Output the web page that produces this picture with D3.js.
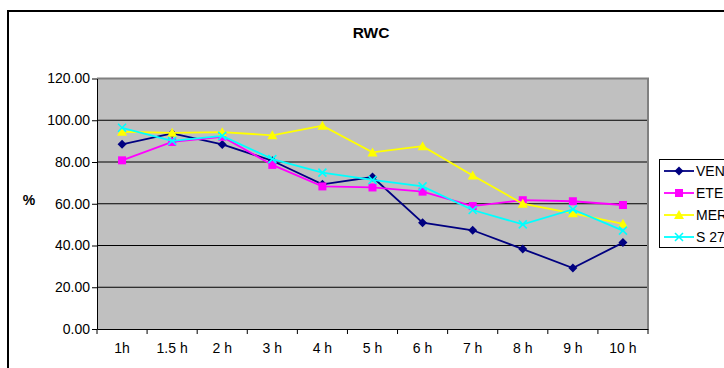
<!DOCTYPE html>
<html>
<head>
<meta charset="utf-8">
<script src="https://cdn.jsdelivr.net/npm/d3@7"></script>
<style>
  html, body { margin: 0; padding: 0; background: #fff; overflow: hidden; }
  svg { display: block; font-family: Arial, "Liberation Sans", sans-serif; }
</style>
</head>
<body>
<svg id="chart" width="724" height="368"></svg>
<script>
// Sampling times
const categories = ["1h", "1.5 h", "2 h", "3 h", "4 h", "5 h", "6 h", "7 h", "8 h", "9 h", "10 h"];

// Relative water content (%) per variety
const venValues = [88.5, 93.7, 88.4, 80.6, 69.3, 72.8, 50.9, 47.3, 38.3, 29.2, 41.4];
const eteValues = [80.8, 89.6, 92.1, 78.6, 68.3, 67.8, 65.8, 58.9, 61.7, 61.2, 59.4];
const merValues = [94.5, 94.0, 94.3, 92.8, 97.4, 84.6, 87.6, 73.5, 60.0, 55.4, 50.4];
const s27Values = [96.4, 90.1, 92.5, 81.4, 74.9, 71.4, 68.3, 57.0, 50.1, 57.3, 47.1];

const seriesNames = ["VENTURA", "ETENDARD", "MERCIA", "S 27"];
const yTicks = [0, 20, 40, 60, 80, 100, 120];

const series = [
  { name: seriesNames[0], values: venValues, color: "#000080", symbol: "diamond" },
  { name: seriesNames[1], values: eteValues, color: "#FF00FF", symbol: "square" },
  { name: seriesNames[2], values: merValues, color: "#FFFF00", symbol: "triangle" },
  { name: seriesNames[3], values: s27Values, color: "#00FFFF", symbol: "cross" }
];

const svg = d3.select("#chart");

// Outer chart frame
svg.append("rect")
  .attr("x", 8).attr("y", 11)
  .attr("width", 760).attr("height", 400)
  .attr("fill", "#fff").attr("stroke", "#000").attr("stroke-width", 2);

const plot = { left: 97, right: 648, top: 78.5, bottom: 329 };

const x = d3.scaleBand().domain(categories).range([plot.left, plot.right]);
const y = d3.scaleLinear().domain([0, 120]).range([plot.bottom, plot.top]);

// Plot background
svg.append("rect")
  .attr("x", plot.left).attr("y", plot.top)
  .attr("width", plot.right - plot.left).attr("height", plot.bottom - plot.top)
  .attr("fill", "#C0C0C0");

// Horizontal gridlines
svg.append("g")
  .selectAll("line")
  .data(yTicks.filter(t => t > 0 && t < 120))
  .join("line")
  .attr("x1", plot.left).attr("x2", plot.right)
  .attr("y1", d => y(d)).attr("y2", d => y(d))
  .attr("stroke", "#000").attr("stroke-width", 1);

// Top and right edges of the plot area
svg.append("path")
  .attr("d", `M${plot.left},${y(120)}H${plot.right}V${plot.bottom}`)
  .attr("fill", "none").attr("stroke", "#808080").attr("stroke-width", 2);

// Y axis
const yAxis = d3.axisLeft(y)
  .tickValues(yTicks)
  .tickFormat(d3.format(".2f"))
  .tickSize(5)
  .tickSizeOuter(0);
const gy = svg.append("g").attr("transform", `translate(${plot.left},0)`).call(yAxis);
gy.select(".domain").attr("stroke", "#000");
gy.selectAll(".tick line").attr("stroke", "#000");
gy.selectAll(".tick text")
  .attr("x", -7)
  .attr("fill", "#000")
  .style("font-size", "14px")
  .style("font-family", "Arial, 'Liberation Sans', sans-serif");

// X axis with ticks at category boundaries
const xAxis = d3.axisBottom(x).tickSize(0).tickSizeOuter(0);
const gx = svg.append("g").attr("transform", `translate(0,${plot.bottom})`).call(xAxis);
gx.select(".domain").attr("stroke", "#000");
gx.selectAll(".tick text")
  .attr("y", 14)
  .attr("fill", "#000")
  .style("font-size", "14px")
  .style("font-family", "Arial, 'Liberation Sans', sans-serif");
svg.append("g")
  .selectAll("line")
  .data(categories)
  .join("line")
  .attr("x1", d => x(d)).attr("x2", d => x(d))
  .attr("y1", plot.bottom).attr("y2", plot.bottom + 5)
  .attr("stroke", "#000");
svg.append("line")
  .attr("x1", plot.right).attr("x2", plot.right)
  .attr("y1", plot.bottom).attr("y2", plot.bottom + 5)
  .attr("stroke", "#000");

// Title and axis label
svg.append("text")
  .attr("x", 371).attr("y", 38)
  .attr("text-anchor", "middle")
  .style("font-size", "15.5px").style("font-weight", "bold")
  .text("RWC");
svg.append("text")
  .attr("x", 29).attr("y", 205)
  .attr("text-anchor", "middle")
  .style("font-size", "14px").style("font-weight", "bold")
  .text("%");

// Marker drawing
function drawMarker(g, symbol, color) {
  if (symbol === "diamond") {
    g.append("path").attr("d", "M0,-4.5L4.5,0L0,4.5L-4.5,0Z").attr("fill", color);
  } else if (symbol === "square") {
    g.append("rect").attr("x", -4).attr("y", -4).attr("width", 8).attr("height", 8).attr("fill", color);
  } else if (symbol === "triangle") {
    g.append("path").attr("d", "M0,-5L5,4L-5,4Z").attr("fill", color);
  } else {
    g.append("path").attr("d", "M-4,-4L4,4M4,-4L-4,4")
      .attr("stroke", color).attr("stroke-width", 1.6).attr("fill", "none");
  }
}

const line = d3.line()
  .x((d, i) => x(categories[i]) + x.bandwidth() / 2)
  .y(d => y(d));

series.forEach(s => {
  svg.append("path")
    .datum(s.values)
    .attr("d", line)
    .attr("fill", "none")
    .attr("stroke", s.color)
    .attr("stroke-width", 1.8);
  s.values.forEach((v, i) => {
    const g = svg.append("g")
      .attr("transform", `translate(${x(categories[i]) + x.bandwidth() / 2},${y(v)})`);
    drawMarker(g, s.symbol, s.color);
  });
});

// Legend
const legend = svg.append("g");
legend.append("rect")
  .attr("x", 659.5).attr("y", 159.5)
  .attr("width", 120).attr("height", 88)
  .attr("fill", "#fff").attr("stroke", "#000").attr("stroke-width", 1);
series.forEach((s, i) => {
  const cy = 171 + i * 22;
  legend.append("line")
    .attr("x1", 664).attr("x2", 694)
    .attr("y1", cy).attr("y2", cy)
    .attr("stroke", s.color).attr("stroke-width", 1.8);
  const g = legend.append("g").attr("transform", `translate(679,${cy})`);
  drawMarker(g, s.symbol, s.color);
  legend.append("text")
    .attr("x", 696).attr("y", cy + 5)
    .style("font-size", "14px")
    .text(s.name);
});
</script>
</body>
</html>
